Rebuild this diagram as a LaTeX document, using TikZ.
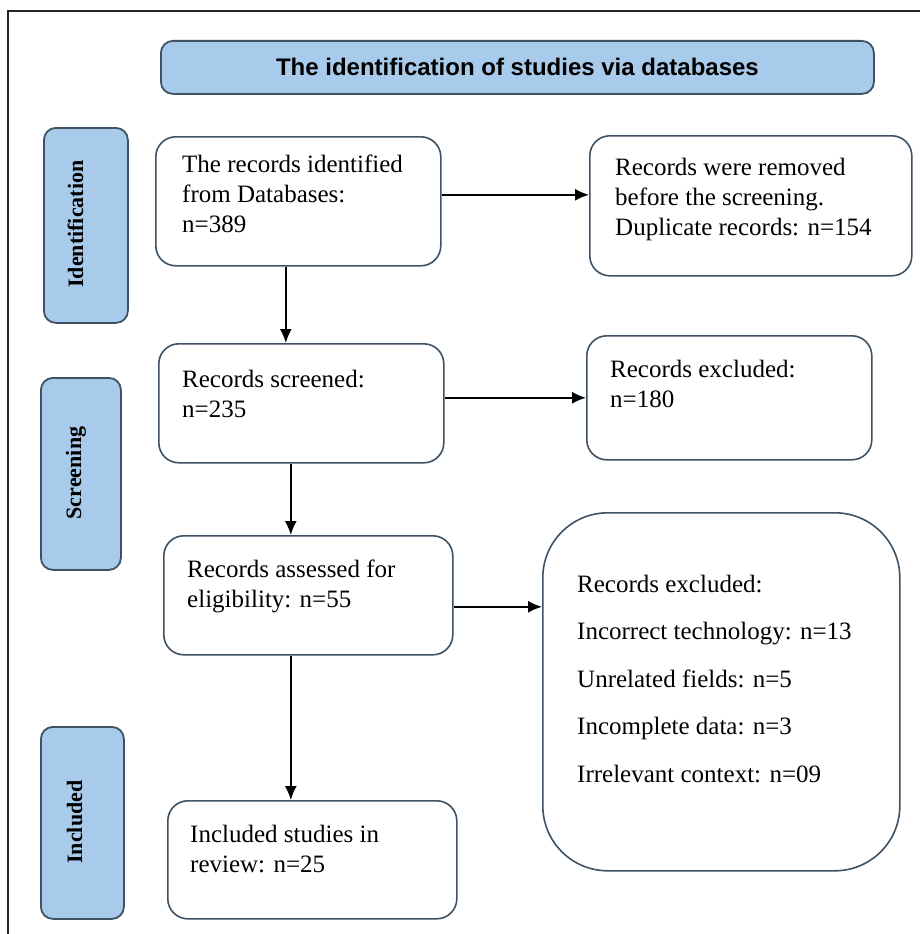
\documentclass[tikz,border=0pt]{standalone}
\usepackage{fontspec}
\setmainfont{Liberation Serif}
\newfontfamily\titlefont{Liberation Sans}
\usetikzlibrary{arrows.meta}
\definecolor{boxfill}{RGB}{168,202,235}
\definecolor{boxline}{RGB}{62,82,100}
\begin{document}
\begin{tikzpicture}[x=1pt,y=-1pt,
  stage/.style={draw=boxline, line width=1.8pt, fill=boxfill, rounded corners=12pt, inner sep=0pt, anchor=north west},
  flowbox/.style={draw=boxline, line width=1.6pt, fill=white, rounded corners=20pt, inner sep=0pt, anchor=north west},
  boxtext/.style={anchor=north west, inner sep=0pt, align=left, font=\fontsize{25}{30}\selectfont},
  stagetext/.style={rotate=90, anchor=base, inner sep=0pt, font=\fontsize{22}{26}\selectfont\bfseries},
  arr/.style={draw=black, line width=1.6pt, -{Latex[length=14pt,width=12pt]}}]
\useasboundingbox (0,0) rectangle (920,934);
\draw[line width=1.2pt, color=black!85] (8,934) -- (8,11) -- (920,11);

% title
\node[stage, minimum width=713pt, minimum height=53pt,
      font=\titlefont\bfseries\fontsize{24}{28}\selectfont] (title) at (160,40)
      {The identification of studies via databases};

% stage boxes
\node[stage, minimum width=84pt, minimum height=195pt] (sid) at (43,127) {};
\node[stage, minimum width=80pt, minimum height=192pt] (ssc) at (40,377) {};
\node[stage, minimum width=83pt, minimum height=192pt] (sin) at (40,726) {};
\node[stagetext] (lid) at (83,224) {Identification};
\node[stagetext] (lsc) at (81,473) {Screening};
\node[stagetext] (lin) at (82,822) {Included};

% flow boxes
\node[flowbox, minimum width=285pt, minimum height=129pt] (b1) at (155,136) {};
\node[flowbox, minimum width=322pt, minimum height=140pt] (b2) at (589,135) {};
\node[flowbox, minimum width=285pt, minimum height=119pt] (b3) at (158,343) {};
\node[flowbox, minimum width=285pt, minimum height=124pt] (b4) at (586,335) {};
\node[flowbox, minimum width=289pt, minimum height=119pt] (b5) at (163,535) {};
\node[flowbox, minimum width=357pt, minimum height=358pt, rounded corners=65pt] (b6) at (542,512) {};
\node[flowbox, minimum width=289pt, minimum height=118pt] (b7) at (167,800) {};

% texts
\node[boxtext] (t1) at (182,151) {\strut The records identified\\from Databases:\\n=389};
\node[boxtext] (t2) at (615,154) {\strut Records were removed\\before the screening.\\Duplicate records: n=154};
\node[boxtext] (t3) at (182,366) {\strut Records screened:\\n=235};
\node[boxtext] (t4) at (610,356) {\strut Records excluded:\\n=180};
\node[boxtext] (t5) at (187,556) {\strut Records assessed for\\eligibility: n=55};
\node[boxtext, font=\fontsize{25}{47.5}\selectfont] (t6) at (577,558.75)
  {\strut Records excluded:\\Incorrect technology: n=13\\Unrelated fields: n=5\\Incomplete data: n=3\\Irrelevant context: n=09};
\node[boxtext] (t7) at (190,821) {\strut Included studies in\\review: n=25};

% arrows
\draw[arr] ([yshift=6.5pt]b1.east) -- ([yshift=6.5pt]b1.east -| b2.west);
\draw[arr] ([yshift=5.5pt]b3.east) -- ([yshift=5.5pt]b3.east -| b4.west);
\draw[arr] ([yshift=-11.5pt]b5.east) -- ([yshift=-11.5pt]b5.east -| b6.west);
\draw[arr] ([xshift=-12.5pt]b1.south) -- ([xshift=-12.5pt]b1.south |- b3.north);
\draw[arr] ([xshift=-10.5pt]b3.south) -- ([xshift=-10.5pt]b3.south |- b5.north);
\draw[arr] ([xshift=-17.5pt]b5.south) -- ([xshift=-17.5pt]b5.south |- b7.north);
\end{tikzpicture}
\end{document}
